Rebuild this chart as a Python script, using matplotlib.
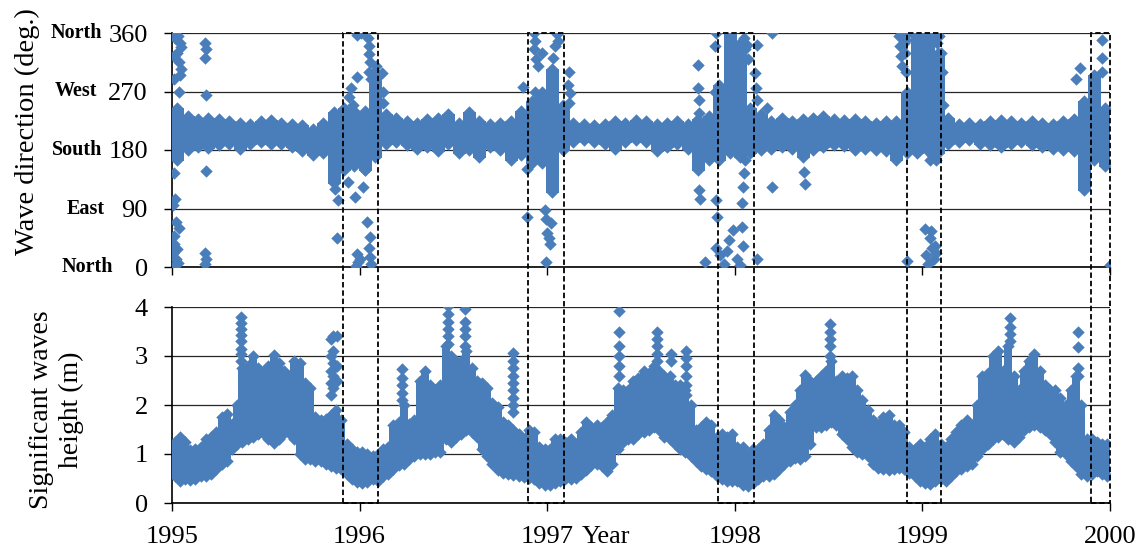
import numpy as np
import matplotlib
matplotlib.use("Agg")
import matplotlib.pyplot as plt
from matplotlib.patches import Rectangle
import matplotlib.transforms as mtransforms

plt.rcParams['font.family'] = ['Liberation Serif', 'DejaVu Serif']

# ---------------- data ----------------
years = [1995, 1996, 1997, 1998, 1999]

# significant wave height: lower / upper edge of the point cloud, 36 bins per year
hs_lo_1995 = [0.55,0.45,0.5,0.47,0.5,0.55,0.55,0.6,0.7,0.8,0.85,1.1,1.2,1.25,1.3,1.35,1.4,1.42,
              1.3,1.22,1.3,1.42,1.42,1.3,1.0,0.9,0.9,0.85,0.85,0.8,0.75,0.72,0.7,0.6,0.5,0.42]
hs_hi_1995 = [1.25,1.35,1.25,1.08,1.1,1.15,1.3,1.35,1.45,1.75,1.82,1.62,2.0,2.75,2.8,3.0,2.75,2.65,
              2.8,3.02,2.85,2.7,2.6,2.9,2.85,2.45,2.35,1.75,1.7,1.72,1.8,1.9,1.7,1.2,1.1,1.05]
hs_lo_1996 = [0.4,0.42,0.5,0.45,0.55,0.6,0.7,0.78,0.8,0.9,0.95,1.0,1.0,1.0,1.05,1.05,1.3,1.25,
              1.35,1.4,1.5,1.45,1.35,1.1,0.95,0.8,0.68,0.62,0.6,0.58,0.55,0.54,0.52,0.5,0.4,0.37]
hs_hi_1996 = [1.05,1.0,0.95,1.0,1.1,1.15,1.6,1.65,2.0,1.62,1.7,2.5,2.7,2.4,2.3,2.4,3.2,3.0,
              2.9,2.9,3.1,2.75,2.5,2.45,2.35,2.05,1.95,1.65,1.6,1.5,1.4,1.3,1.5,1.45,1.15,1.1]
hs_lo_1997 = [0.37,0.4,0.45,0.5,0.5,0.52,0.6,0.68,0.78,0.8,0.75,0.65,0.8,1.1,1.25,1.3,1.3,1.4,
              1.45,1.5,1.55,1.5,1.35,1.3,1.2,1.1,1.05,0.95,0.85,0.75,0.7,0.65,0.55,0.5,0.45,0.45]
hs_hi_1997 = [1.1,1.3,1.3,1.25,1.3,1.2,1.45,1.65,1.55,1.6,1.55,1.65,1.8,2.35,2.3,2.3,2.5,2.55,
              2.7,2.65,2.8,2.7,2.6,2.6,2.4,2.4,2.3,2.0,1.5,1.55,1.65,1.6,1.35,1.4,1.35,1.4]
hs_lo_1998 = [0.45,0.36,0.35,0.4,0.5,0.55,0.55,0.6,0.7,0.8,0.85,0.92,0.9,0.95,1.2,1.55,1.55,1.6,
              1.65,1.6,1.4,1.3,1.15,1.05,1.0,0.95,0.8,0.72,0.7,0.68,0.7,0.72,0.7,0.62,0.55,0.45]
hs_hi_1998 = [1.15,1.15,1.0,1.1,1.1,1.2,1.5,1.8,1.7,1.55,1.85,2.0,2.3,2.62,2.5,2.5,2.6,2.7,
              2.9,2.5,2.6,2.55,2.6,2.3,2.1,1.9,1.7,1.6,1.75,1.8,1.6,1.6,1.45,1.15,1.1,1.2]
hs_lo_1999 = [0.4,0.38,0.45,0.5,0.45,0.55,0.65,0.7,0.75,0.8,0.95,1.1,1.2,1.3,1.35,1.4,1.3,1.25,
              1.35,1.5,1.55,1.6,1.55,1.5,1.4,1.25,1.05,1.0,0.85,0.75,0.6,0.55,0.6,0.65,0.6,0.55]
hs_hi_1999 = [1.15,1.3,1.4,1.2,1.15,1.3,1.45,1.6,1.7,1.6,2.0,2.6,2.65,3.0,3.1,2.7,3.2,2.6,
              2.3,2.7,2.9,3.05,2.7,2.4,2.3,2.3,2.15,2.0,2.3,2.6,2.0,1.3,1.3,1.25,1.2,1.2]

# storm peaks (isolated stacked points)
hs_spike_t = [1995.366]*8 + [1995.845]*5 + [1995.86]*5 + [1995.88]*3 + [1996.226]*5 + \
             [1996.47]*6 + [1996.562]*5 + [1996.818]*9 + [1997.383]*6 + [1997.584]*5 + \
             [1997.658]*2 + [1997.74]*6 + [1998.507]*5 + [1999.467]*4 + [1999.83]*4
hs_spike_v = [3.8,3.68,3.55,3.42,3.3,3.15,3.05,2.9,
              3.35,3.0,2.7,2.45,2.2,
              3.4,3.1,2.85,2.6,2.35,
              3.4,2.8,2.5,
              2.74,2.55,2.4,2.25,2.1,
              4.02,3.85,3.7,3.55,3.4,3.25,
              3.95,3.7,3.55,3.4,3.2,
              3.07,2.9,2.75,2.6,2.45,2.3,2.15,2.0,1.85,
              3.92,3.5,3.2,3.0,2.8,2.6,
              3.5,3.35,3.2,3.05,2.9,
              3.04,2.9,
              3.1,2.95,2.8,2.6,2.4,2.2,
              3.65,3.5,3.35,3.2,3.0,
              3.78,3.6,3.45,3.3,
              3.48,3.18,2.75,2.6]

# wave direction: lower / upper edge of the main cloud, 18 bins per year
dir_lo_1995 = [165,180,185,183,188,190,182,190,192,190,190,184,178,172,175,130,150,155]
dir_hi_1995 = [245,232,228,230,228,225,222,220,225,226,222,220,218,212,222,238,245,240]
dir_lo_1996 = [150,170,190,192,188,182,185,178,190,175,180,170,185,180,165,172,160,160]
dir_hi_1996 = [240,300,235,230,225,222,228,230,235,222,238,225,220,222,225,240,255,270]
dir_lo_1997 = [115,180,192,195,192,190,182,192,195,192,178,185,190,182,150,165,165,175]
dir_hi_1997 = [305,250,222,220,218,220,225,222,226,225,220,222,225,220,228,232,280,360]
dir_lo_1998 = [170,175,180,182,185,182,170,180,185,188,186,180,182,180,178,165,175,175]
dir_hi_1998 = [345,245,235,225,230,225,228,230,232,228,226,228,225,222,225,225,270,360]
dir_lo_1999 = [178,175,190,192,195,190,188,185,190,192,188,185,182,180,178,118,165,155]
dir_hi_1999 = [360,330,230,220,222,220,225,226,225,222,225,222,220,225,228,255,295,245]

# scattered direction points outside the main cloud
dir_out_t = [1995.008,1995.015,1995.03,1995.04,1995.05,1995.025,1995.012,1995.038,1995.05,1995.045,
             1995.008,1995.035,1995.01,1995.015,1995.005,1995.02,1995.035,1995.008,1995.012,1995.004,
             1995.02,1995.03,1995.01,1995.025,
             1995.175,1995.18,1995.178,1995.18,1995.18,1995.178,1995.18,1995.176,
             1995.87,1995.878,1995.887,1995.94,1995.975,1996.02,1996.03,1995.945,1995.955,1995.965,
             1995.985,1995.985,1996.01,1996.045,1996.05,1996.048,1996.055,1996.05,1996.06,1996.075,
             1996.09,1996.1,1996.118,1996.125,1996.125,1996.038,1996.055,1996.05,1996.055,1996.06,
             1995.985,1995.99,1995.98,1996.0,
             1996.93,1996.935,1996.93,1996.94,1996.95,1996.97,1997.05,1997.055,1997.04,1997.03,
             1996.873,1996.935,1996.94,1996.97,1997.115,1997.112,1997.12,1997.115,1996.891,
             1996.891,1996.99,1996.995,1997.02,1997.0,1997.01,1997.015,1996.995,
             1997.806,1997.806,1997.808,1997.81,1997.81,1997.812,1997.84,1997.903,1997.9,1997.9,
             1997.92,1997.94,1997.96,1997.97,1997.99,1998.01,1998.03,1998.04,1998.045,1998.04,
             1998.045,1998.05,1998.055,1998.047,1998.055,1998.063,1998.07,1998.116,1998.11,1998.113,
             1998.116,1998.17,1998.197,1998.197,1997.895,1997.9,1997.895,1998.116,
             1998.374,1998.37,
             1998.875,1998.88,1998.885,1998.89,1998.895,1998.9,1998.905,1998.91,1998.915,1998.925,
             1999.06,1999.07,1999.08,1999.09,1999.1,1999.105,1999.11,
             1998.916,1999.014,1999.04,1999.05,1999.06,1999.02,1999.03,1999.065,1999.045,1999.075,
             1999.04,1999.05,1999.07,
             1999.82,1999.84,1999.956,1999.956,1999.958,1999.998]
dir_out_v = [358,352,356,345,338,330,325,315,305,295,
             290,270,145,105,95,70,60,48,35,22,
             12,6,2,28,
             345,335,322,265,147,22,12,5,
             120,44,103,131,108,123,150,262,275,250,
             293,357,360,352,340,328,315,300,290,300,
             310,295,298,270,252,69,46,30,15,5,
             20,8,2,13,
             360,348,335,320,310,330,358,348,340,322,
             277,270,255,264,300,280,268,252,151,
             77,88,74,68,52,44,35,8,
             311,275,257,237,118,105,8,77,103,30,
             18,5,25,41,57,12,3,62,33,98,
             123,144,165,352,335,342,320,342,298,275,
             257,244,360,123,340,360,270,13,
             128,146,
             355,340,325,310,360,345,330,300,350,360,
             350,360,345,355,330,300,250,
             10,59,44,30,13,18,5,33,55,22,
             165,172,164,
             290,306,349,321,300,3]

# winter periods marked by dashed boxes
winter_start = [1995.91, 1996.90, 1997.91, 1998.92, 1999.90]
winter_end = [1996.10, 1997.09, 1998.10, 1999.10, 2000.00]

# ---------------- assemble ----------------
hs_lo = np.array(hs_lo_1995 + hs_lo_1996 + hs_lo_1997 + hs_lo_1998 + hs_lo_1999)
hs_hi = np.array(hs_hi_1995 + hs_hi_1996 + hs_hi_1997 + hs_hi_1998 + hs_hi_1999)
t_hs = np.concatenate([y + (np.arange(36) + 0.5) / 36 for y in years])
dir_lo = np.array(dir_lo_1995 + dir_lo_1996 + dir_lo_1997 + dir_lo_1998 + dir_lo_1999)
dir_hi = np.array(dir_hi_1995 + dir_hi_1996 + dir_hi_1997 + dir_hi_1998 + dir_hi_1999)
t_dir = np.concatenate([y + (np.arange(18) + 0.5) / 18 for y in years])

BLUE = '#4a7ebb'
FS = 19
W, H = 1146, 548

fig = plt.figure(figsize=(W / 100, H / 100), dpi=100)
ax1 = fig.add_axes([172 / W, 1 - 267 / H, 938 / W, 234 / H])
ax2 = fig.add_axes([172 / W, 1 - 503 / H, 938 / W, 196 / H])

mk = dict(marker='D', s=40, color=BLUE, linewidths=0, zorder=3)

# direction panel
ax1.vlines(t_dir, dir_lo, dir_hi, colors=BLUE, lw=8.0, zorder=3, antialiased=False)
ax1.scatter(t_dir, dir_lo, **mk)
ax1.scatter(t_dir, dir_hi, **mk)
ax1.scatter(dir_out_t, dir_out_v, **mk)

# wave height panel
ax2.vlines(t_hs, hs_lo, hs_hi, colors=BLUE, lw=4.4, zorder=3, antialiased=False)
ax2.scatter(t_hs, hs_lo, **mk)
ax2.scatter(t_hs, hs_hi, **mk)
ax2.scatter(hs_spike_t, hs_spike_v, **mk)

for ax in (ax1, ax2):
    ax.set_xlim(1995, 2000)
    ax.set_xticks([1995, 1996, 1997, 1998, 1999, 2000])
    ax.set_axisbelow(True)
    ax.yaxis.grid(True, color='#262626', lw=0.9)
    for s in ('top', 'right'):
        ax.spines[s].set_visible(False)
    for s in ('left', 'bottom'):
        ax.spines[s].set_linewidth(1.2)
        ax.spines[s].set_color('black')
    ax.tick_params(axis='both', direction='out', length=5.8, width=1.0, labelsize=FS)
    ax.tick_params(axis='y', pad=11.5)
    ax.tick_params(axis='x', pad=10.5)

ax1.set_ylim(0, 360)
ax1.set_yticks([0, 90, 180, 270, 360])
ax1.tick_params(axis='x', labelbottom=False)
ax2.set_ylim(0, 4)
ax2.set_yticks([0, 1, 2, 3, 4])
ax2.set_xticklabels(['1995', '1996', '1997', '1998', '1999', '2000'])

# compass words next to the direction ticks
compass = [('North', 360, -50.4), ('West', 270, -54.0), ('South', 180, -50.4),
           ('East', 90, -48.2), ('North', 0, -42.5)]
for word, val, off in compass:
    ax1.annotate(word, xy=(0, val), xycoords=('axes fraction', 'data'),
                 xytext=(off, 0), textcoords='offset points',
                 ha='right', va='center', fontsize=14.5, fontweight='bold')

ax1.set_ylabel('Wave direction (deg.)', fontsize=20.5)
ax1.yaxis.set_label_coords(-0.141, 0.577)
ax2.set_ylabel('Significant waves\nheight (m)', fontsize=20, linespacing=1.25)
ax2.yaxis.set_label_coords(-0.094, 0.474)

ax2.annotate('Year', xy=(0.4368, 0), xycoords='axes fraction',
             xytext=(0, -(5.8 + 10.5)), textcoords='offset points',
             ha='left', va='top', fontsize=FS)

# dashed boxes spanning both panels
trans = mtransforms.blended_transform_factory(ax2.transData, fig.transFigure)
y0 = 1 - 503 / H
hgt = (503 - 33) / H
for a, b in zip(winter_start, winter_end):
    r = Rectangle((a, y0), b - a, hgt, transform=trans, fill=False,
                  edgecolor='black', lw=1.3, ls=(0, (3, 1.6)), zorder=10, clip_on=False)
    fig.add_artist(r)

fig.savefig('out.png', dpi=100)
